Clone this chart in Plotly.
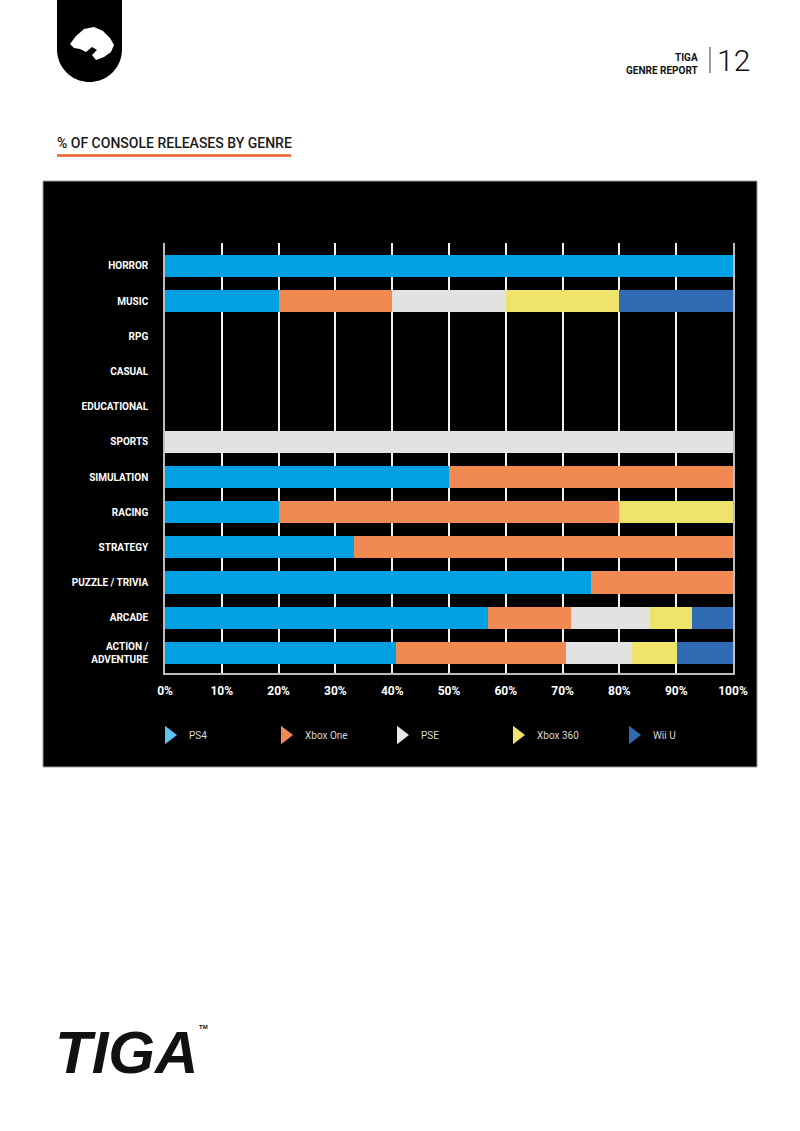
import math
import plotly.graph_objects as go

# ---------------- data ----------------
genres = ["HORROR", "MUSIC", "RPG", "CASUAL", "EDUCATIONAL", "SPORTS", "SIMULATION",
          "RACING", "STRATEGY", "PUZZLE / TRIVIA", "ARCADE", "ACTION /<br>ADVENTURE"]
ps4 = [100, 20, 0, 0, 0, 0, 50, 20, 33.3, 75, 56.8, 40.7]
xbox_one = [0, 20, 0, 0, 0, 0, 50, 60, 66.7, 25, 14.7, 29.9]
pse = [0, 20, 0, 0, 0, 100, 0, 0, 0, 0, 13.8, 11.6]
xbox_360 = [0, 20, 0, 0, 0, 0, 0, 20, 0, 0, 7.4, 8.0]
wii_u = [0, 20, 0, 0, 0, 0, 0, 0, 0, 0, 7.3, 9.8]
series_names = ["PS4", "Xbox One", "PSE", "Xbox 360", "Wii U"]
series_values = [ps4, xbox_one, pse, xbox_360, wii_u]
x_ticks = [0, 10, 20, 30, 40, 50, 60, 70, 80, 90, 100]

colors = ["#00a0e3", "#f08a52", "#e2e2e2", "#eee46c", "#2e6bb3"]
legend_colors = ["#5cc3ef", "#f08a52", "#e8e8e8", "#eee46c", "#2e6bb3"]

# ---------------- layout geometry (pixels) ----------------
W, H = 800, 1131
PL, PR, PT, PB = 165, 733, 243, 673


def px(x):
    return (x - PL) / (PR - PL)


def py(y):
    return (PB - y) / (PB - PT)


fig = go.Figure()

for name, vals, col in zip(series_names, series_values, colors):
    fig.add_trace(go.Bar(
        y=genres, x=vals, name=name, orientation="h",
        marker=dict(color=col, line=dict(width=0)),
        width=0.63, showlegend=False, hoverinfo="x+y+name",
    ))

for name, col in zip(series_names, legend_colors):
    fig.add_trace(go.Scatter(
        x=[None], y=[None], mode="markers", name=name,
        marker=dict(symbol="triangle-right", size=16, color=col),
        showlegend=True,
    ))

shapes = []
# black chart panel
shapes.append(dict(type="rect", xref="paper", yref="paper",
                   x0=px(43), x1=px(757), y0=py(767), y1=py(181),
                   fillcolor="black", line=dict(color="#9a9a9a", width=1), layer="below"))

# tiger tab (rect with rounded bottom)
cx, cy, r = 89.5, 49.5, 32.5
pts = [(57, 0), (122, 0), (122, cy)]
for i in range(0, 41):
    a = math.pi * i / 40
    pts.append((cx + r * math.cos(a), cy + r * math.sin(a)))
pts.append((57, 0))
path = "M " + " L ".join(f"{px(x):.5f},{py(y):.5f}" for x, y in pts) + " Z"
shapes.append(dict(type="path", xref="paper", yref="paper", path=path,
                   fillcolor="black", line=dict(width=0), layer="above"))

# stylised tiger head (white)
head = [(70, 44), (76, 36), (84, 29), (94, 27), (103, 31), (110, 38), (114, 45),
        (111, 52), (104, 57), (96, 60), (92, 55), (97, 50), (92, 47), (86, 52),
        (80, 49), (74, 48)]
hpath = "M " + " L ".join(f"{px(x):.5f},{py(y):.5f}" for x, y in head) + " Z"
shapes.append(dict(type="path", xref="paper", yref="paper", path=hpath,
                   fillcolor="white", line=dict(width=0), layer="above"))

# header divider
shapes.append(dict(type="line", xref="paper", yref="paper",
                   x0=px(710), x1=px(710), y0=py(47), y1=py(73),
                   line=dict(color="#333", width=1)))
# title underline
shapes.append(dict(type="line", xref="paper", yref="paper",
                   x0=px(57), x1=px(291), y0=py(155.5), y1=py(155.5),
                   line=dict(color="#e8622a", width=2.5)))

annotations = [
    dict(text="<b>TIGA</b>", x=px(700), y=py(57), xref="paper", yref="paper",
         xanchor="right", yanchor="middle", showarrow=False,
         font=dict(family="Roboto", size=10, color="#111")),
    dict(text="<b>GENRE REPORT</b>", x=px(700), y=py(70.5), xref="paper", yref="paper",
         xanchor="right", yanchor="middle", showarrow=False,
         font=dict(family="Roboto", size=10, color="#111")),
    dict(text="12", x=px(715), y=py(60), xref="paper", yref="paper",
         xanchor="left", yanchor="middle", showarrow=False,
         font=dict(family="Roboto", size=30, color="#111", weight=300)),
    dict(text="% OF CONSOLE RELEASES BY GENRE", x=px(55), y=py(143), xref="paper", yref="paper",
         xanchor="left", yanchor="middle", showarrow=False,
         font=dict(family="Roboto", size=14, color="#1a1a1a", weight=500)),
    dict(text="<b><i>TIGA</i></b>", x=px(53), y=py(1052), xref="paper", yref="paper",
         xanchor="left", yanchor="middle", showarrow=False,
         font=dict(family="Liberation Sans", size=60, color="#111")),
    dict(text="<b>TM</b>", x=px(197), y=py(1027), xref="paper", yref="paper",
         xanchor="left", yanchor="middle", showarrow=False,
         font=dict(family="Liberation Sans", size=6, color="#111")),
]

fig.update_layout(
    width=W, height=H,
    margin=dict(l=PL, r=W - PR, t=PT, b=H - PB, pad=0),
    paper_bgcolor="white", plot_bgcolor="rgba(0,0,0,0)",
    barmode="stack", bargap=0.37,
    shapes=shapes, annotations=annotations,
    showlegend=True,
    legend=dict(orientation="h", x=px(149), y=py(735), xanchor="left", yanchor="middle",
                xref="paper", yref="paper", traceorder="normal",
                entrywidth=71, entrywidthmode="pixels", bgcolor="rgba(0,0,0,0)",
                font=dict(family="Roboto", size=10, color="#d8d8d8"),
                itemsizing="trace"),
    xaxis=dict(range=[0, 100], tickvals=x_ticks, ticktext=[f"<b>{v}%</b>" for v in x_ticks],
               showgrid=True, gridcolor="#f2f2f2", gridwidth=1.5,
               zeroline=False, showline=True, linecolor="#bdbdbd", linewidth=1.5,
               ticks="", ticklabelstandoff=6,
               tickfont=dict(family="Roboto", size=12, color="white"),
               fixedrange=True),
    yaxis=dict(type="category", categoryorder="array", categoryarray=genres,
               tickvals=genres, ticktext=[f"<b>{g}</b>" for g in genres],
               range=[11.57, -0.65], showgrid=False, zeroline=False,
               showline=True, mirror=True, linecolor="#bdbdbd", linewidth=1.5,
               ticks="", ticklabelstandoff=13,
               tickfont=dict(family="Roboto", size=10, color="white"),
               fixedrange=True),
)

fig.write_html("out.html")
